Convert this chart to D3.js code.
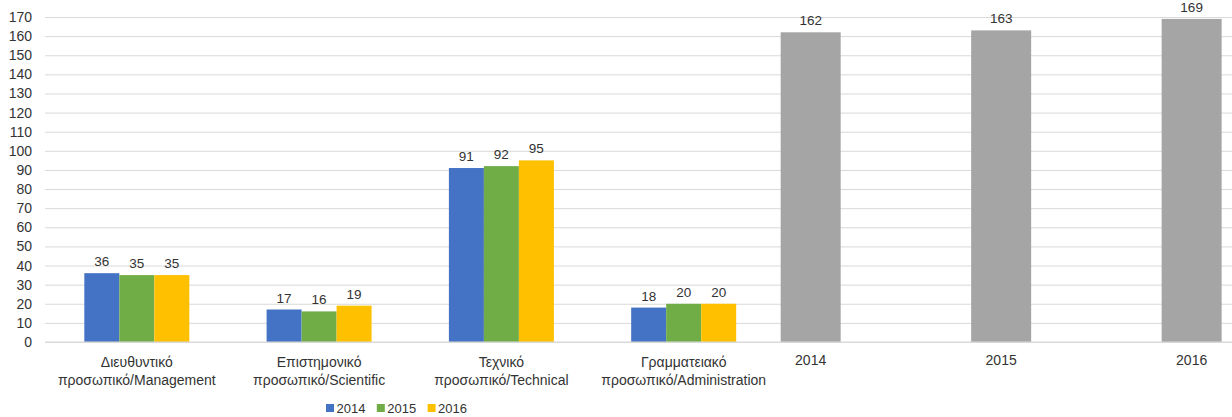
<!DOCTYPE html>
<html>
  <head>
    <meta charset="UTF-8" />
    <title>Staff by category</title>
    <style>
      body { margin: 0; background: #fff; }
      svg text { font-family: 'Liberation Sans', Arial, sans-serif; fill: #333; }
      .domain { display: none; }
    </style>
  </head>
  <body>
    <svg width="1232" height="417"></svg>
    <script src="https://cdnjs.cloudflare.com/ajax/libs/d3/7.8.5/d3.min.js"></script>
    <script>
      // data
      const groups = ['Management', 'Scientific', 'Technical', 'Administration'];
      const groupLabels = [
        ['Διευθυντικό', 'προσωπικό/Management'],
        ['Επιστημονικό', 'προσωπικό/Scientific'],
        ['Τεχνικό', 'προσωπικό/Technical'],
        ['Γραμματειακό', 'προσωπικό/Administration'],
      ];
      const years = ['2014', '2015', '2016'];
      const values2014 = [36, 17, 91, 18];
      const values2015 = [35, 16, 92, 20];
      const values2016 = [35, 19, 95, 20];
      const totals = [162, 163, 169];
      const yTicks = d3.range(0, 171, 10);
      const colors = ['#4472C4', '#70AD47', '#FFC000'];
      const totalColor = '#A5A5A5';

      const svg = d3.select('svg');
      const width = +svg.attr('width');

      const plotLeft = 45;
      const yScale = d3.scaleLinear().domain([0, 170]).range([342, 17]);

      // y axis + gridlines
      const yAxisG = svg
        .append('g')
        .attr('transform', `translate(${plotLeft},0)`)
        .call(d3.axisLeft(yScale).tickValues(yTicks).tickSize(-(width - plotLeft)).tickPadding(13));
      yAxisG.selectAll('.tick line').attr('stroke', '#d9d9d9');
      yAxisG.selectAll('.tick text').style('font-size', '14px');

      // grouped section
      const x0 = d3
        .scaleBand()
        .domain(groups)
        .range([plotLeft, 775.5])
        .paddingInner(0.424)
        .paddingOuter(0.2157);
      const x1 = d3.scaleBand().domain(years).range([0, x0.bandwidth()]);

      const seriesValues = [values2014, values2015, values2016];
      const rows = groups.map((g, i) => ({
        group: g,
        vals: years.map((y, j) => ({ year: y, value: seriesValues[j][i], color: colors[j] })),
      }));

      const groupG = svg
        .selectAll('.group')
        .data(rows)
        .join('g')
        .attr('class', 'group')
        .attr('transform', (d) => `translate(${x0(d.group)},0)`);

      groupG
        .selectAll('rect')
        .data((d) => d.vals)
        .join('rect')
        .attr('x', (d) => x1(d.year))
        .attr('y', (d) => yScale(d.value))
        .attr('width', x1.bandwidth())
        .attr('height', (d) => yScale(0) - yScale(d.value))
        .attr('fill', (d) => d.color);

      groupG
        .selectAll('text.val')
        .data((d) => d.vals)
        .join('text')
        .attr('class', 'val')
        .attr('x', (d) => x1(d.year) + x1.bandwidth() / 2)
        .attr('y', (d) => yScale(d.value) - 7)
        .attr('text-anchor', 'middle')
        .style('font-size', '13.5px')
        .text((d) => d.value);

      // totals section
      const x2 = d3
        .scaleBand()
        .domain(years)
        .range([705.9, 1296.4])
        .paddingInner(0.685)
        .paddingOuter(0.3925);

      svg
        .selectAll('rect.total')
        .data(totals)
        .join('rect')
        .attr('class', 'total')
        .attr('x', (d, i) => x2(years[i]))
        .attr('y', (d) => yScale(d))
        .attr('width', x2.bandwidth())
        .attr('height', (d) => yScale(0) - yScale(d))
        .attr('fill', totalColor);

      svg
        .selectAll('text.total')
        .data(totals)
        .join('text')
        .attr('class', 'total')
        .attr('x', (d, i) => x2(years[i]) + x2.bandwidth() / 2)
        .attr('y', (d) => yScale(d) - 7)
        .attr('text-anchor', 'middle')
        .style('font-size', '13.5px')
        .text((d) => d);

      // x axis labels
      const xAxisG = svg
        .append('g')
        .attr('transform', `translate(0,${yScale(0)})`)
        .call(d3.axisBottom(x0).tickSize(0).tickFormat(''));
      xAxisG
        .selectAll('.tick')
        .append('text')
        .style('font-size', '14px')
        .attr('text-anchor', 'middle')
        .selectAll('tspan')
        .data((d) => groupLabels[groups.indexOf(d)])
        .join('tspan')
        .attr('x', 0)
        .attr('y', (d, i) => 24.5 + i * 18.5)
        .text((d) => d);

      const xAxis2G = svg
        .append('g')
        .attr('transform', `translate(0,${yScale(0)})`)
        .call(d3.axisBottom(x2).tickSize(0).tickPadding(13));
      xAxis2G.selectAll('.tick text').style('font-size', '14px').attr('fill', '#333');

      // baseline
      svg
        .append('line')
        .attr('x1', plotLeft)
        .attr('x2', width)
        .attr('y1', yScale(0))
        .attr('y2', yScale(0))
        .attr('stroke', '#d9d9d9');

      // legend
      const legend = svg.append('g').attr('transform', 'translate(326,404)');
      const legendItem = legend
        .selectAll('g')
        .data(years)
        .join('g')
        .attr('transform', (d, i) => `translate(${i * 50.8},0)`);
      legendItem
        .append('rect')
        .attr('width', 8)
        .attr('height', 8)
        .attr('fill', (d, i) => colors[i]);
      legendItem
        .append('text')
        .attr('x', 10.5)
        .attr('y', 8.5)
        .style('font-size', '13px')
        .text((d) => d);
    </script>
  </body>
</html>
